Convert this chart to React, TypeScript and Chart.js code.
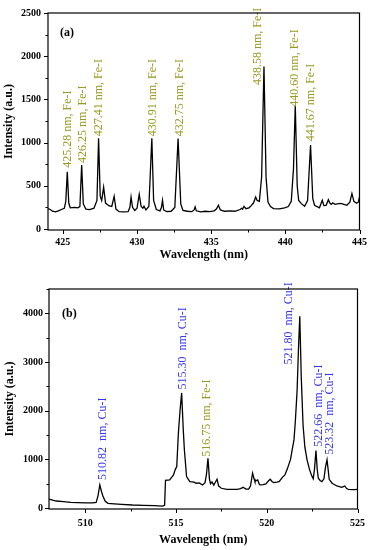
import React, { useEffect, useRef } from 'react';
import { Chart, registerables } from 'chart.js';
Chart.register(...registerables);

// ---------- Panel (a) data ----------
const WL_A = [
  424.0, 424.15, 424.3, 424.5, 424.7, 424.9, 425.1, 425.2, 425.3, 425.4, 425.5, 425.8, 426.0, 426.15,
  426.27, 426.38, 426.55, 426.8, 427.1, 427.3, 427.41, 427.52, 427.62, 427.75, 427.88, 428.1, 428.3,
  428.46, 428.58, 428.8, 429.1, 429.4, 429.52, 429.6, 429.7, 429.85, 430.0, 430.15, 430.28, 430.4,
  430.47, 430.6, 430.8, 431.0, 431.12, 431.3, 431.55, 431.65, 431.72, 431.8, 432.0, 432.3, 432.55,
  432.77, 432.95, 433.1, 433.4, 433.7, 433.85, 433.92, 434.0, 434.3, 434.6, 434.9, 435.2, 435.35,
  435.49, 435.62, 435.9, 436.3, 436.6, 436.95, 437.05, 437.12, 437.21, 437.35, 437.55, 437.7, 437.85,
  438.0, 438.1, 438.25, 438.4, 438.56, 438.7, 438.83, 439.0, 439.2, 439.6, 439.95, 440.2, 440.4,
  440.55, 440.67, 440.8, 440.9, 441.08, 441.3, 441.5, 441.7, 441.85, 441.97, 442.3, 442.49, 442.6,
  442.75, 442.9, 443.0, 443.1, 443.2, 443.35, 443.5, 443.74, 443.95, 444.15, 444.35, 444.49, 444.62,
  444.8, 444.92, 445.0,
];
const INT_A = [
  236, 225, 205, 198, 210, 225, 240, 320, 662, 300, 245, 250, 245, 260,
  739, 290, 230, 225, 240, 330, 1050, 380, 330, 483, 300, 270, 260,
  377, 230, 200, 198, 200, 250, 369, 250, 215, 240, 400, 260, 240,
  263, 220, 260, 1050, 330, 225, 210, 250, 331, 220, 200, 205, 250,
  1047, 290, 215, 205, 200, 220, 255, 210, 198, 205, 200, 210, 230,
  274, 220, 205, 210, 205, 225, 240, 230, 262, 235, 245, 270, 300,
  369, 330, 320, 600, 1880, 600, 312, 260, 236, 232, 245, 260, 320,
  700, 1435, 500, 330, 293, 262, 330, 971, 350, 274, 245, 331, 270,
  274, 339, 300, 285, 303, 285, 290, 297, 285, 274, 310, 411, 320,
  297, 310, 370,
];
const X_TICKS_A = [425, 430, 435, 440, 445];
const X_MINOR_A = [427.5, 432.5, 437.5, 442.5];
const Y_TICKS_A = [0, 500, 1000, 1500, 2000, 2500];
const Y_MINOR_A = [250, 750, 1250, 1750, 2250];

const ANN_A_TEXT = [
  '425.28 nm, Fe-I', '426.25 nm, Fe-I', '427.41 nm, Fe-I', '430.91 nm, Fe-I',
  '432.75 nm, Fe-I', '438.58 nm, Fe-I', '440.60 nm, Fe-I', '441.67 nm, Fe-I',
];
const ANN_A_X = [425.35, 426.36, 427.43, 431.07, 432.88, 438.13, 440.62, 441.73];
const ANN_A_Y = [708, 765, 1073, 1073, 1073, 1667, 1416, 1016];

// ---------- Panel (b) data ----------
const WL_B = [
  508.0, 508.2, 508.4, 508.8, 509.2, 509.6, 510.0, 510.4, 510.6, 510.7, 510.8, 510.9, 510.98, 511.1,
  511.25, 511.6, 512.0, 512.6, 513.2, 513.8, 514.25, 514.37, 514.42, 514.65, 514.86, 514.95, 515.04,
  515.13, 515.22, 515.31, 515.4, 515.46, 515.58, 515.76, 516.0, 516.1, 516.28, 516.46, 516.6, 516.68,
  516.76, 516.84, 516.9, 516.98, 517.08, 517.15, 517.26, 517.35, 517.5, 517.8, 518.1, 518.37, 518.55,
  518.7, 518.85, 519.0, 519.1, 519.22, 519.3, 519.35, 519.45, 519.5, 519.6, 519.68, 519.8, 519.95,
  520.1, 520.19, 520.3, 520.4, 520.55, 520.68, 520.86, 521.0, 521.13, 521.31, 521.4, 521.5, 521.58,
  521.67, 521.75, 521.82, 521.9, 522.0, 522.1, 522.22, 522.35, 522.46, 522.56, 522.63, 522.71, 522.78,
  522.84, 522.95, 523.04, 523.15, 523.24, 523.32, 523.38, 523.44, 523.6, 523.86, 524.13, 524.22,
  524.3, 524.4, 524.5, 524.8, 525.0,
];
const INT_B = [
  185, 160, 144, 130, 118, 110, 105, 105, 115, 250, 474, 330, 234, 140,
  96, 85, 75, 62, 55, 48, 41, 55, 570, 580, 680, 784, 852,
  1540, 2000, 2365, 1600, 1196, 646, 543, 530, 509, 516, 474, 520, 700,
  1024, 600, 500, 536, 470, 520, 591, 450, 406, 385, 385, 385, 400,
  426, 390, 390, 450, 715, 600, 543, 570, 577, 480, 474, 480, 495,
  560, 591, 540, 522, 530, 543, 630, 680, 800, 1000, 1196, 1400, 1815,
  2400, 3300, 3940, 2700, 1700, 1250, 990, 800, 680, 600, 800, 1182, 800,
  612, 560, 543, 600, 850, 990, 800, 590, 509, 453, 426, 440,
  453, 400, 385, 380, 385,
];
const X_TICKS_B = [510, 515, 520, 525];
const X_MINOR_B = [512.5, 517.5, 522.5];
const Y_TICKS_B = [0, 1000, 2000, 3000, 4000];
const Y_MINOR_B = [500, 1500, 2500, 3500, 4500];

const ANN_B_TEXT = [
  '510.82  nm, Cu-I', '515.30  nm, Cu-I', '516.75 nm, Fe-I',
  '521.80  nm, Cu-I', '522.66  nm, Cu-I', '523.32  nm, Cu-I',
];
const ANN_B_X = [510.98, 515.36, 516.72, 521.24, 522.85, 523.47];
const ANN_B_Y = [577, 2433, 1052, 2949, 1258, 1093];

const SERIF = "'Liberation Serif', 'Times New Roman', serif";
const OLIVE = '#9a9a22';
const BLUE = '#3636f0';

type PanelCfg = {
  wl: number[]; inten: number[];
  xMin: number; xMax: number; yMin: number; yMax: number;
  xTicks: number[]; xMinor: number[]; yTicks: number[]; yMinor: number[];
  annText: string[]; annX: number[]; annY: number[];
  label: string; labelDx: number; labelDy: number;
  padTop: number; padRight: number; yWidth: number; xHeight: number;
  xTitlePad: number; xTickPad: number; yTickPad: number; yTitlePad: number;
};

function makeChart(canvas: HTMLCanvasElement, c: PanelCfg) {
  const deco = {
    id: 'deco',
    afterDatasetsDraw(chart: any) {
      const ctx = chart.ctx;
      const xs = chart.scales.x, ys = chart.scales.y;
      ctx.save();
      ctx.font = `12px ${SERIF}`;
      ctx.textAlign = 'left';
      ctx.textBaseline = 'middle';
      c.annText.forEach((t, i) => {
        const px = xs.getPixelForValue(c.annX[i]);
        const py = ys.getPixelForValue(c.annY[i]);
        ctx.save();
        ctx.translate(px, py);
        ctx.rotate(-Math.PI / 2);
        ctx.fillStyle = t.includes('Cu') ? BLUE : OLIVE;
        ctx.fillText(t, 0, 0);
        ctx.restore();
      });
      ctx.restore();
    },
    afterDraw(chart: any) {
      const ctx = chart.ctx;
      const a = chart.chartArea;
      const xs = chart.scales.x, ys = chart.scales.y;
      ctx.save();
      ctx.strokeStyle = '#000';
      ctx.lineWidth = 1.2;
      ctx.strokeRect(a.left, a.top, a.right - a.left, a.bottom - a.top);
      ctx.lineWidth = 1;
      ctx.beginPath();
      const xt = (v: number, len: number) => {
        const p = Math.round(xs.getPixelForValue(v)) + 0.5;
        ctx.moveTo(p, a.bottom); ctx.lineTo(p, a.bottom + len);
      };
      const yt = (v: number, len: number) => {
        const p = Math.round(ys.getPixelForValue(v)) + 0.5;
        ctx.moveTo(a.left, p); ctx.lineTo(a.left - len, p);
      };
      c.xTicks.forEach(v => xt(v, 4));
      c.xMinor.forEach(v => xt(v, 2.5));
      c.yTicks.forEach(v => yt(v, 4));
      c.yMinor.forEach(v => yt(v, 2.5));
      ctx.stroke();
      ctx.fillStyle = '#000';
      ctx.font = `bold 12px ${SERIF}`;
      ctx.textAlign = 'left';
      ctx.textBaseline = 'middle';
      ctx.fillText(c.label, a.left + c.labelDx, a.top + c.labelDy);
      ctx.restore();
    },
  };

  const tickFont = { family: SERIF, size: 10, weight: 'bold' as const };
  const titleFont = { family: SERIF, size: 12, weight: 'bold' as const };
  const plain = (v: any) => String(v);

  return new Chart(canvas, {
    type: 'scatter',
    data: {
      datasets: [{
        data: c.wl.map((x, i) => ({ x, y: c.inten[i] })),
        showLine: true,
        borderColor: '#000',
        borderWidth: 1.3,
        pointRadius: 0,
        tension: 0,
      }],
    },
    options: {
      responsive: false,
      animation: false,
      devicePixelRatio: 1,
      layout: { padding: { left: 0, right: c.padRight, top: c.padTop, bottom: 0 } },
      plugins: { legend: { display: false }, tooltip: { enabled: false } },
      scales: {
        x: {
          type: 'linear', min: c.xMin, max: c.xMax,
          afterBuildTicks: (s: any) => { s.ticks = c.xTicks.map(v => ({ value: v })); },
          afterFit: (s: any) => { s.height = c.xHeight; },
          grid: { display: false, drawTicks: false },
          border: { display: false },
          ticks: { font: tickFont, color: '#000', padding: c.xTickPad, maxRotation: 0, autoSkip: false, callback: plain },
          title: { display: true, text: 'Wavelength (nm)', font: titleFont, color: '#000', padding: { top: 0, bottom: c.xTitlePad } },
        },
        y: {
          type: 'linear', min: c.yMin, max: c.yMax,
          afterBuildTicks: (s: any) => { s.ticks = c.yTicks.map(v => ({ value: v })); },
          afterFit: (s: any) => { s.width = c.yWidth; },
          grid: { display: false, drawTicks: false },
          border: { display: false },
          ticks: { font: tickFont, color: '#000', padding: c.yTickPad, autoSkip: false, callback: plain },
          title: { display: true, text: 'Intensity (a.u.)', font: titleFont, color: '#000', padding: { top: c.yTitlePad, bottom: 0 } },
        },
      },
    },
    plugins: [deco],
  } as any);
}

export default function App() {
  const refA = useRef<HTMLCanvasElement>(null);
  const refB = useRef<HTMLCanvasElement>(null);

  useEffect(() => {
    const a = makeChart(refA.current!, {
      wl: WL_A, inten: INT_A, xMin: 424, xMax: 445, yMin: -12, yMax: 2500,
      xTicks: X_TICKS_A, xMinor: X_MINOR_A, yTicks: Y_TICKS_A, yMinor: Y_MINOR_A,
      annText: ANN_A_TEXT, annX: ANN_A_X, annY: ANN_A_Y,
      label: '(a)', labelDx: 12, labelDy: 20,
      padTop: 10, padRight: 13, yWidth: 48, xHeight: 45,
      xTitlePad: 13, xTickPad: 6, yTickPad: 7, yTitlePad: 2,
    });
    const b = makeChart(refB.current!, {
      wl: WL_B, inten: INT_B, xMin: 508, xMax: 525, yMin: -20, yMax: 4500,
      xTicks: X_TICKS_B, xMinor: X_MINOR_B, yTicks: Y_TICKS_B, yMinor: Y_MINOR_B,
      annText: ANN_B_TEXT, annX: ANN_B_X, annY: ANN_B_Y,
      label: '(b)', labelDx: 13, labelDy: 25,
      padTop: 14, padRight: 12, yWidth: 49, xHeight: 41,
      xTitlePad: 3, xTickPad: 8, yTickPad: 6, yTitlePad: 3,
    });
    return () => { a.destroy(); b.destroy(); };
  }, []);

  return (
    <div style={{ position: 'absolute', left: 0, top: 0, width: 373, height: 550, background: '#fff' }}>
      <canvas ref={refA} width={373} height={275} style={{ position: 'absolute', left: 0, top: 0, width: 373, height: 275 }} />
      <canvas ref={refB} width={373} height={275} style={{ position: 'absolute', left: 0, top: 275, width: 373, height: 275 }} />
    </div>
  );
}
